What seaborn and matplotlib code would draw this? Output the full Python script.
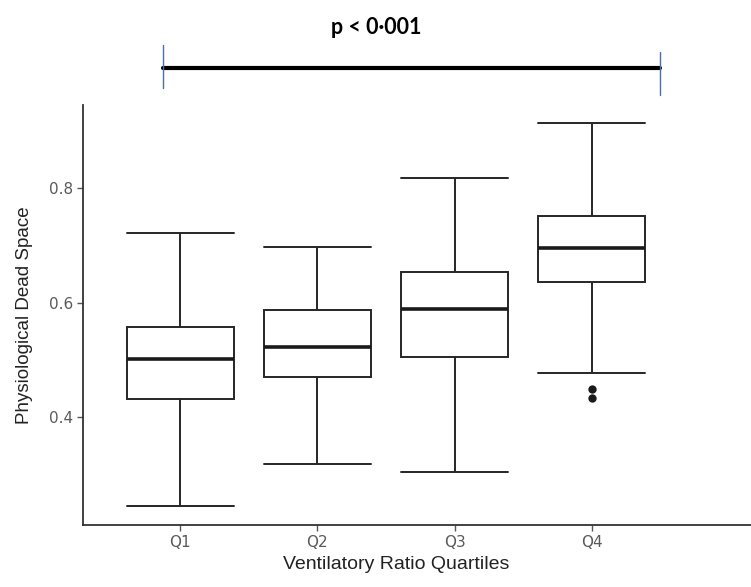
import pandas as pd
import numpy as np
import matplotlib.pyplot as plt
import seaborn as sns

sns.set_style("white")
plt.rcParams['font.family'] = ['Liberation Sans', 'DejaVu Sans']

# Box summaries
quartiles = ['Q1', 'Q2', 'Q3', 'Q4']
whisker_low = [0.245, 0.318, 0.304, 0.477]
box_q1 = [0.431, 0.470, 0.505, 0.636]
medians = [0.501, 0.522, 0.589, 0.695]
box_q3 = [0.557, 0.587, 0.653, 0.751]
whisker_high = [0.722, 0.697, 0.817, 0.914]

# Outliers (only Q4 has them)
outlier_group = ['Q4', 'Q4']
outlier_values = [0.449, 0.433]

# Long table: five-number summary per group, whiskers run min->max
rows = []
for i, q in enumerate(quartiles):
    for v in [whisker_low[i], box_q1[i], medians[i], box_q3[i], whisker_high[i]]:
        rows.append({'quartile': q, 'dead_space': v})
df = pd.DataFrame(rows)
out_df = pd.DataFrame({'quartile': outlier_group, 'dead_space': outlier_values})

fig = plt.figure(figsize=(7.51, 5.87), dpi=100)
ax = fig.add_axes([0.1105, 0.1056, 0.889, 0.715])

line_col = '#262626'
sns.boxplot(data=df, x='quartile', y='dead_space', order=quartiles,
            whis=(0, 100), width=0.78, color='white', linecolor=line_col,
            linewidth=1.4, showfliers=False, capwidths=0.78,
            medianprops={'linewidth': 2.6, 'color': '#1a1a1a'}, ax=ax)
sns.stripplot(data=out_df, x='quartile', y='dead_space', order=quartiles,
              jitter=False, color='#1a1a1a', size=6, ax=ax)

ax.set_xlim(-0.71, 4.16)
ax.set_ylim(0.211, 0.945)
ax.set_yticks([0.4, 0.6, 0.8])
ax.set_yticklabels(['0.4', '0.6', '0.8'])

ax.set_xlabel('Ventilatory Ratio Quartiles', fontsize=14, color='#222222')
ax.set_ylabel('Physiological Dead Space', fontsize=13.5, color='#222222')
ax.xaxis.set_label_coords((396 - 83) / 668, -(556 - 525) / 420)
ax.yaxis.set_label_coords((33 - 83) / 668, 0.5)
ax.tick_params(axis='both', colors='#555555', length=4, width=1,
               bottom=True, left=True, pad=3)
for t in ax.get_xticklabels() + ax.get_yticklabels():
    t.set_color('#5a5a5a')
    t.set_family(['DejaVu Sans'])
    t.set_fontsize(11)

sns.despine(ax=ax)
for s in ['left', 'bottom']:
    ax.spines[s].set_color('#333333')
    ax.spines[s].set_linewidth(1.3)

# Significance bracket above the plot (axes fraction coords)
tr = ax.transAxes
x_l, x_r = (163 - 83) / 668, (660 - 83) / 668
y_bar = (525 - 68) / 420
ax.plot([x_l, x_r], [y_bar, y_bar], transform=tr, color='black', lw=3, clip_on=False)
ax.plot([x_l, x_l], [(525 - 45) / 420, (525 - 88) / 420], transform=tr,
        color='#4a6fa5', lw=1, clip_on=False)
ax.plot([x_r, x_r], [(525 - 52) / 420, (525 - 95) / 420], transform=tr,
        color='#4a6fa5', lw=1, clip_on=False)
ax.text((376 - 83) / 668, (525 - 27) / 420, 'p < 0\u00b7001', transform=tr,
        ha='center', va='center', fontsize=15.5, fontweight='bold',
        family=['Lato', 'DejaVu Sans'], color='black')

fig.savefig('out.png', dpi=100)
